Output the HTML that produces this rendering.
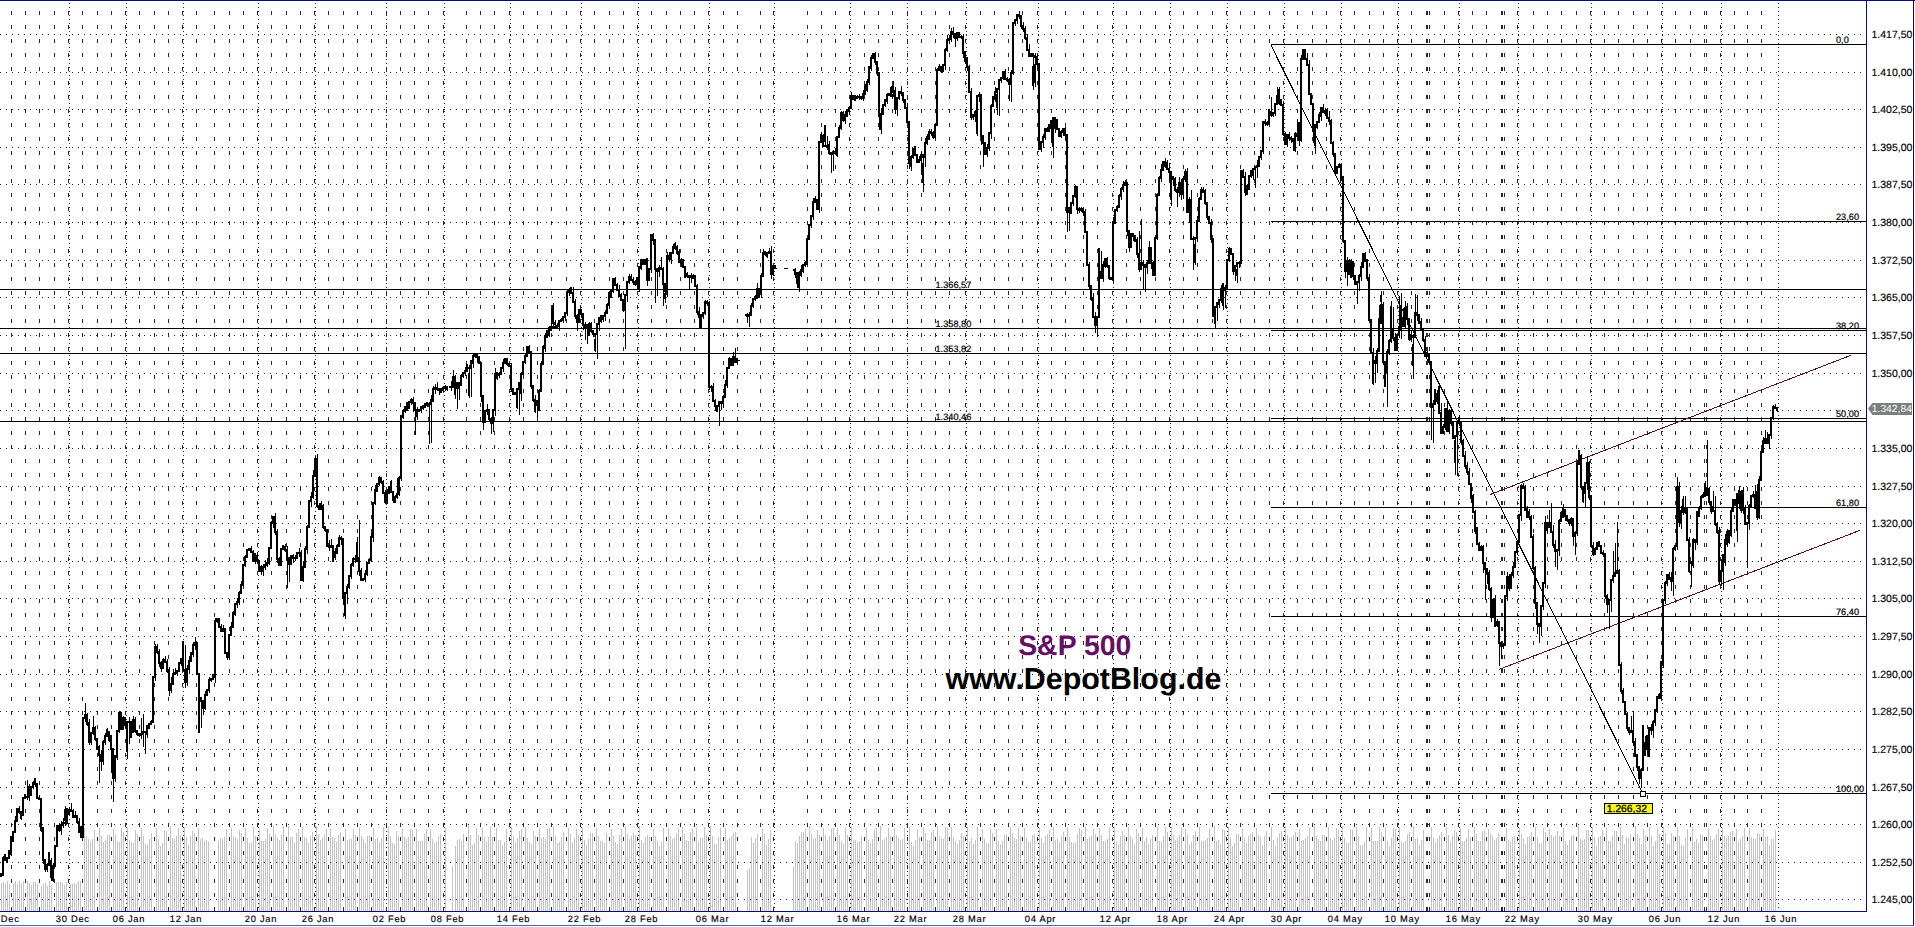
<!DOCTYPE html>
<html><head><meta charset="utf-8"><title>S&amp;P 500</title>
<style>html,body{margin:0;padding:0;background:#fff;}body{width:1915px;height:927px;overflow:hidden;font-family:"Liberation Sans", sans-serif;}svg{display:block;position:absolute;left:0;top:0;}text{font-family:"Liberation Sans", sans-serif;}</style>
</head><body>
<svg width="1915" height="927" viewBox="0 0 1915 927" shape-rendering="crispEdges">
<rect x="0" y="0" width="1915" height="927" fill="#ffffff"/>
<path d="M1.5 883 V911 M3.5 882 V911 M5.5 884 V911 M7.5 881 V911 M9.5 884 V911 M13.5 883 V911 M15.5 881 V911 M17.5 884 V911 M19.5 881 V911 M21.5 883 V911 M23.5 881 V911 M27.5 881 V911 M29.5 883 V911 M31.5 885 V911 M33.5 882 V911 M35.5 882 V911 M37.5 884 V911 M41.5 886 V911 M43.5 884 V911 M45.5 883 V911 M47.5 886 V911 M49.5 881 V911 M51.5 885 V911 M56.5 882 V911 M58.5 882 V911 M60.5 882 V911 M62.5 883 V911 M64.5 885 V911 M66.5 882 V911 M70.5 884 V911 M72.5 884 V911 M74.5 883 V911 M76.5 884 V911 M78.5 881 V911 M80.5 881 V911 M84.5 828 V911 M86.5 836 V911 M88.5 839 V911 M90.5 842 V911 M92.5 839 V911 M94.5 830 V911 M99.5 828 V911 M101.5 836 V911 M103.5 842 V911 M105.5 840 V911 M107.5 835 V911 M109.5 835 V911 M113.5 829 V911 M115.5 834 V911 M117.5 841 V911 M119.5 842 V911 M121.5 828 V911 M123.5 832 V911 M127.5 828 V911 M129.5 840 V911 M131.5 842 V911 M133.5 843 V911 M135.5 830 V911 M137.5 834 V911 M141.5 828 V911 M143.5 836 V911 M145.5 844 V911 M147.5 845 V911 M149.5 839 V911 M151.5 833 V911 M156.5 828 V911 M158.5 839 V911 M160.5 846 V911 M162.5 843 V911 M164.5 830 V911 M166.5 831 V911 M170.5 826 V911 M172.5 838 V911 M174.5 839 V911 M176.5 836 V911 M178.5 828 V911 M180.5 835 V911 M184.5 827 V911 M186.5 837 V911 M188.5 845 V911 M190.5 836 V911 M192.5 831 V911 M194.5 833 V911 M198.5 828 V911 M200.5 839 V911 M202.5 838 V911 M204.5 841 V911 M206.5 840 V911 M208.5 842 V911 M218.5 841 V911 M220.5 838 V911 M222.5 839 V911 M224.5 837 V911 M226.5 829 V911 M231.5 828 V911 M233.5 836 V911 M235.5 837 V911 M237.5 839 V911 M239.5 830 V911 M241.5 833 V911 M245.5 828 V911 M247.5 838 V911 M249.5 843 V911 M251.5 842 V911 M253.5 827 V911 M255.5 836 V911 M259.5 829 V911 M261.5 841 V911 M263.5 841 V911 M265.5 839 V911 M267.5 828 V911 M269.5 834 V911 M273.5 826 V911 M275.5 834 V911 M277.5 838 V911 M279.5 840 V911 M281.5 835 V911 M283.5 827 V911 M288.5 826 V911 M290.5 837 V911 M292.5 837 V911 M294.5 843 V911 M296.5 833 V911 M298.5 829 V911 M302.5 827 V911 M304.5 837 V911 M306.5 838 V911 M308.5 843 V911 M310.5 836 V911 M312.5 832 V911 M316.5 826 V911 M318.5 834 V911 M320.5 840 V911 M322.5 838 V911 M324.5 834 V911 M326.5 829 V911 M330.5 829 V911 M332.5 837 V911 M334.5 838 V911 M336.5 842 V911 M338.5 835 V911 M340.5 832 V911 M345.5 829 V911 M347.5 840 V911 M349.5 839 V911 M351.5 839 V911 M353.5 829 V911 M355.5 835 V911 M359.5 828 V911 M361.5 836 V911 M363.5 839 V911 M365.5 843 V911 M367.5 836 V911 M369.5 836 V911 M373.5 828 V911 M375.5 839 V911 M377.5 838 V911 M379.5 842 V911 M381.5 838 V911 M383.5 827 V911 M388.5 827 V911 M390.5 836 V911 M392.5 843 V911 M394.5 844 V911 M396.5 831 V911 M398.5 836 V911 M402.5 829 V911 M404.5 837 V911 M406.5 839 V911 M408.5 837 V911 M410.5 829 V911 M412.5 830 V911 M416.5 829 V911 M418.5 841 V911 M420.5 841 V911 M422.5 841 V911 M424.5 834 V911 M426.5 829 V911 M430.5 829 V911 M432.5 839 V911 M434.5 843 V911 M436.5 841 V911 M438.5 836 V911 M440.5 834 V911 M445.5 828 V911 M455.5 846 V911 M457.5 840 V911 M459.5 839 V911 M461.5 841 V911 M463.5 834 V911 M468.5 826 V911 M470.5 835 V911 M472.5 845 V911 M474.5 843 V911 M476.5 828 V911 M478.5 835 V911 M482.5 828 V911 M484.5 837 V911 M486.5 842 V911 M488.5 837 V911 M490.5 827 V911 M492.5 837 V911 M496.5 828 V911 M498.5 840 V911 M500.5 840 V911 M502.5 845 V911 M504.5 842 V911 M506.5 829 V911 M511.5 827 V911 M513.5 836 V911 M515.5 842 V911 M517.5 838 V911 M519.5 831 V911 M521.5 829 V911 M525.5 827 V911 M527.5 838 V911 M529.5 842 V911 M531.5 844 V911 M533.5 831 V911 M535.5 836 V911 M539.5 828 V911 M541.5 838 V911 M543.5 837 V911 M545.5 839 V911 M547.5 829 V911 M549.5 828 V911 M553.5 827 V911 M555.5 836 V911 M557.5 843 V911 M559.5 842 V911 M561.5 837 V911 M563.5 832 V911 M568.5 828 V911 M570.5 834 V911 M572.5 842 V911 M574.5 838 V911 M576.5 829 V911 M578.5 835 V911 M582.5 828 V911 M584.5 840 V911 M586.5 845 V911 M588.5 839 V911 M590.5 833 V911 M592.5 833 V911 M596.5 828 V911 M598.5 836 V911 M600.5 841 V911 M602.5 841 V911 M604.5 843 V911 M606.5 833 V911 M611.5 829 V911 M613.5 836 V911 M615.5 842 V911 M617.5 844 V911 M619.5 835 V911 M621.5 829 V911 M625.5 827 V911 M627.5 834 V911 M629.5 839 V911 M631.5 836 V911 M633.5 833 V911 M635.5 835 V911 M639.5 826 V911 M641.5 840 V911 M643.5 843 V911 M645.5 837 V911 M647.5 835 V911 M649.5 837 V911 M653.5 829 V911 M655.5 836 V911 M657.5 841 V911 M659.5 846 V911 M661.5 842 V911 M663.5 828 V911 M668.5 828 V911 M670.5 836 V911 M672.5 839 V911 M674.5 838 V911 M676.5 833 V911 M678.5 828 V911 M682.5 827 V911 M684.5 834 V911 M686.5 840 V911 M688.5 841 V911 M690.5 832 V911 M692.5 829 V911 M696.5 828 V911 M698.5 842 V911 M700.5 838 V911 M702.5 838 V911 M704.5 827 V911 M706.5 835 V911 M710.5 826 V911 M712.5 836 V911 M714.5 844 V911 M716.5 844 V911 M718.5 837 V911 M720.5 828 V911 M725.5 828 V911 M727.5 840 V911 M729.5 838 V911 M731.5 836 V911 M733.5 833 V911 M735.5 832 V911 M751.5 837 V911 M753.5 843 V911 M755.5 838 V911 M757.5 834 V911 M762.5 829 V911 M764.5 834 V911 M766.5 845 V911 M768.5 839 V911 M770.5 830 V911 M795.5 841 V911 M797.5 843 V911 M799.5 836 V911 M801.5 832 V911 M803.5 832 V911 M805.5 829 V911 M809.5 826 V911 M811.5 834 V911 M813.5 839 V911 M815.5 838 V911 M817.5 830 V911 M819.5 835 V911 M823.5 828 V911 M825.5 835 V911 M827.5 840 V911 M829.5 836 V911 M831.5 829 V911 M833.5 828 V911 M837.5 828 V911 M839.5 835 V911 M841.5 841 V911 M843.5 844 V911 M845.5 828 V911 M847.5 835 V911 M851.5 827 V911 M853.5 840 V911 M855.5 840 V911 M857.5 842 V911 M859.5 841 V911 M861.5 836 V911 M866.5 828 V911 M868.5 840 V911 M870.5 843 V911 M872.5 839 V911 M874.5 830 V911 M876.5 828 V911 M880.5 826 V911 M882.5 840 V911 M884.5 839 V911 M886.5 837 V911 M888.5 828 V911 M890.5 836 V911 M894.5 828 V911 M896.5 835 V911 M898.5 838 V911 M900.5 840 V911 M902.5 839 V911 M904.5 828 V911 M909.5 827 V911 M911.5 842 V911 M913.5 846 V911 M915.5 840 V911 M917.5 829 V911 M919.5 837 V911 M923.5 827 V911 M925.5 833 V911 M927.5 840 V911 M929.5 840 V911 M931.5 832 V911 M933.5 830 V911 M937.5 826 V911 M939.5 836 V911 M941.5 838 V911 M943.5 839 V911 M945.5 827 V911 M947.5 828 V911 M951.5 827 V911 M953.5 837 V911 M955.5 841 V911 M957.5 844 V911 M959.5 840 V911 M961.5 833 V911 M963.5 836 V911 M967.5 827 V911 M969.5 841 V911 M971.5 838 V911 M973.5 844 V911 M975.5 840 V911 M977.5 827 V911 M982.5 829 V911 M984.5 839 V911 M986.5 844 V911 M988.5 843 V911 M990.5 828 V911 M992.5 833 V911 M996.5 829 V911 M998.5 841 V911 M1000.5 844 V911 M1002.5 841 V911 M1004.5 835 V911 M1006.5 834 V911 M1010.5 827 V911 M1012.5 834 V911 M1014.5 838 V911 M1016.5 839 V911 M1018.5 828 V911 M1020.5 836 V911 M1024.5 828 V911 M1026.5 838 V911 M1028.5 842 V911 M1030.5 841 V911 M1032.5 835 V911 M1034.5 834 V911 M1039.5 828 V911 M1041.5 838 V911 M1043.5 843 V911 M1045.5 836 V911 M1047.5 834 V911 M1049.5 830 V911 M1053.5 827 V911 M1055.5 840 V911 M1057.5 839 V911 M1059.5 842 V911 M1061.5 836 V911 M1063.5 832 V911 M1067.5 827 V911 M1069.5 837 V911 M1071.5 842 V911 M1073.5 843 V911 M1075.5 842 V911 M1077.5 834 V911 M1079.5 828 V911 M1081.5 830 V911 M1085.5 827 V911 M1087.5 839 V911 M1089.5 837 V911 M1091.5 836 V911 M1093.5 829 V911 M1095.5 834 V911 M1099.5 828 V911 M1101.5 835 V911 M1103.5 841 V911 M1105.5 841 V911 M1107.5 839 V911 M1109.5 828 V911 M1114.5 827 V911 M1116.5 842 V911 M1118.5 845 V911 M1120.5 836 V911 M1122.5 831 V911 M1124.5 835 V911 M1128.5 827 V911 M1130.5 836 V911 M1132.5 839 V911 M1134.5 844 V911 M1136.5 829 V911 M1138.5 833 V911 M1142.5 828 V911 M1144.5 841 V911 M1146.5 837 V911 M1148.5 844 V911 M1150.5 839 V911 M1152.5 835 V911 M1157.5 827 V911 M1159.5 841 V911 M1161.5 841 V911 M1163.5 836 V911 M1165.5 827 V911 M1167.5 832 V911 M1171.5 827 V911 M1173.5 835 V911 M1175.5 840 V911 M1177.5 838 V911 M1179.5 835 V911 M1181.5 828 V911 M1185.5 829 V911 M1187.5 834 V911 M1189.5 845 V911 M1191.5 842 V911 M1193.5 835 V911 M1195.5 831 V911 M1199.5 827 V911 M1201.5 841 V911 M1203.5 841 V911 M1205.5 840 V911 M1207.5 838 V911 M1209.5 829 V911 M1214.5 826 V911 M1216.5 841 V911 M1218.5 840 V911 M1220.5 844 V911 M1222.5 829 V911 M1224.5 830 V911 M1228.5 827 V911 M1230.5 837 V911 M1232.5 846 V911 M1234.5 843 V911 M1236.5 834 V911 M1238.5 834 V911 M1242.5 829 V911 M1244.5 838 V911 M1246.5 843 V911 M1248.5 836 V911 M1250.5 834 V911 M1252.5 832 V911 M1256.5 828 V911 M1258.5 835 V911 M1260.5 837 V911 M1262.5 845 V911 M1264.5 836 V911 M1266.5 831 V911 M1271.5 827 V911 M1273.5 840 V911 M1275.5 846 V911 M1277.5 838 V911 M1279.5 833 V911 M1281.5 831 V911 M1285.5 827 V911 M1287.5 835 V911 M1289.5 838 V911 M1291.5 837 V911 M1293.5 835 V911 M1295.5 832 V911 M1299.5 829 V911 M1301.5 841 V911 M1303.5 840 V911 M1305.5 838 V911 M1307.5 836 V911 M1309.5 828 V911 M1314.5 826 V911 M1316.5 836 V911 M1318.5 839 V911 M1320.5 841 V911 M1322.5 835 V911 M1324.5 835 V911 M1328.5 827 V911 M1330.5 838 V911 M1332.5 840 V911 M1334.5 838 V911 M1336.5 828 V911 M1338.5 830 V911 M1342.5 826 V911 M1344.5 838 V911 M1346.5 843 V911 M1348.5 843 V911 M1350.5 829 V911 M1352.5 830 V911 M1356.5 827 V911 M1358.5 836 V911 M1360.5 845 V911 M1362.5 845 V911 M1364.5 842 V911 M1366.5 827 V911 M1371.5 828 V911 M1373.5 841 V911 M1375.5 841 V911 M1377.5 841 V911 M1379.5 827 V911 M1381.5 832 V911 M1385.5 828 V911 M1387.5 841 V911 M1389.5 846 V911 M1391.5 838 V911 M1393.5 828 V911 M1395.5 829 V911 M1399.5 828 V911 M1401.5 842 V911 M1403.5 843 V911 M1405.5 841 V911 M1407.5 834 V911 M1409.5 832 V911 M1413.5 826 V911 M1415.5 839 V911 M1417.5 838 V911 M1419.5 845 V911 M1421.5 840 V911 M1423.5 830 V911 M1431.5 827 V911 M1433.5 838 V911 M1435.5 842 V911 M1437.5 838 V911 M1439.5 835 V911 M1441.5 832 V911 M1446.5 827 V911 M1448.5 835 V911 M1450.5 842 V911 M1452.5 836 V911 M1454.5 830 V911 M1456.5 832 V911 M1460.5 828 V911 M1462.5 841 V911 M1464.5 841 V911 M1466.5 838 V911 M1468.5 829 V911 M1470.5 837 V911 M1474.5 827 V911 M1476.5 834 V911 M1478.5 841 V911 M1480.5 841 V911 M1482.5 831 V911 M1484.5 830 V911 M1488.5 829 V911 M1490.5 834 V911 M1492.5 836 V911 M1494.5 840 V911 M1496.5 838 V911 M1498.5 833 V911 M1506.5 828 V911 M1508.5 840 V911 M1510.5 842 V911 M1512.5 837 V911 M1514.5 836 V911 M1519.5 828 V911 M1521.5 834 V911 M1523.5 838 V911 M1525.5 844 V911 M1527.5 837 V911 M1529.5 836 V911 M1531.5 832 V911 M1535.5 827 V911 M1537.5 837 V911 M1539.5 843 V911 M1541.5 844 V911 M1543.5 828 V911 M1545.5 832 V911 M1549.5 829 V911 M1551.5 835 V911 M1553.5 837 V911 M1555.5 836 V911 M1557.5 831 V911 M1559.5 836 V911 M1563.5 828 V911 M1565.5 841 V911 M1567.5 845 V911 M1569.5 840 V911 M1571.5 836 V911 M1573.5 835 V911 M1578.5 826 V911 M1580.5 839 V911 M1582.5 840 V911 M1584.5 839 V911 M1586.5 830 V911 M1588.5 830 V911 M1592.5 827 V911 M1594.5 837 V911 M1596.5 846 V911 M1598.5 837 V911 M1600.5 836 V911 M1602.5 830 V911 M1606.5 828 V911 M1608.5 841 V911 M1610.5 841 V911 M1612.5 836 V911 M1614.5 831 V911 M1616.5 831 V911 M1620.5 827 V911 M1622.5 835 V911 M1624.5 844 V911 M1626.5 837 V911 M1628.5 838 V911 M1630.5 834 V911 M1635.5 826 V911 M1637.5 834 V911 M1639.5 838 V911 M1641.5 844 V911 M1643.5 829 V911 M1645.5 835 V911 M1649.5 827 V911 M1651.5 836 V911 M1653.5 846 V911 M1655.5 841 V911 M1657.5 829 V911 M1659.5 834 V911 M1663.5 827 V911 M1665.5 833 V911 M1667.5 844 V911 M1669.5 844 V911 M1671.5 833 V911 M1673.5 836 V911 M1677.5 827 V911 M1679.5 836 V911 M1681.5 845 V911 M1683.5 846 V911 M1685.5 838 V911 M1687.5 829 V911 M1692.5 827 V911 M1694.5 842 V911 M1696.5 839 V911 M1698.5 843 V911 M1700.5 834 V911 M1702.5 835 V911 M1708.5 828 V911 M1710.5 836 V911 M1712.5 840 V911 M1714.5 839 V911 M1716.5 834 V911 M1718.5 829 V911 M1722.5 828 V911 M1724.5 836 V911 M1726.5 838 V911 M1728.5 836 V911 M1730.5 832 V911 M1732.5 831 V911 M1736.5 829 V911 M1738.5 842 V911 M1740.5 839 V911 M1742.5 836 V911 M1744.5 828 V911 M1749.5 828 V911 M1751.5 837 V911 M1753.5 839 V911 M1755.5 839 V911 M1757.5 833 V911 M1759.5 834 V911 M1763.5 829 V911 M1765.5 837 V911 M1767.5 836 V911 M1769.5 845 V911 M1771.5 839 V911 M1773.5 839 V911 M1775.5 830 V911 M747.5 870 V911 M749.5 868 V911 M793.5 867 V911 M452.5 866 V911" stroke="#c2c2c2" stroke-width="1" fill="none"/>
<path d="M0 34.5 H1861 M0 72.5 H1861 M0 109.5 H1861 M0 147.5 H1861 M0 184.5 H1861 M0 222.5 H1861 M0 260.5 H1861 M0 297.5 H1861 M0 335.5 H1861 M0 373.5 H1861 M0 410.5 H1861 M0 448.5 H1861 M0 486.5 H1861 M0 523.5 H1861 M0 561.5 H1861 M0 598.5 H1861 M0 636.5 H1861 M0 674.5 H1861 M0 711.5 H1861 M0 749.5 H1861 M0 787.5 H1861 M0 824.5 H1861 M0 862.5 H1861 M0 899.5 H1861" stroke="#2a2a2a" stroke-width="1" stroke-dasharray="1 5" fill="none"/>
<path d="M11.5 11 V911 M25.5 11 V911 M39.5 11 V911 M54.5 11 V911 M68.5 11 V911 M82.5 11 V911 M97.5 11 V911 M111.5 11 V911 M125.5 11 V911 M139.5 11 V911 M154.5 11 V911 M168.5 11 V911 M182.5 11 V911 M196.5 11 V911 M214.5 11 V911 M229.5 11 V911 M243.5 11 V911 M257.5 11 V911 M271.5 11 V911 M286.5 11 V911 M300.5 11 V911 M314.5 11 V911 M328.5 11 V911 M343.5 11 V911 M357.5 11 V911 M371.5 11 V911 M386.5 11 V911 M400.5 11 V911 M414.5 11 V911 M428.5 11 V911 M443.5 11 V911 M466.5 11 V911 M480.5 11 V911 M494.5 11 V911 M509.5 11 V911 M523.5 11 V911 M537.5 11 V911 M551.5 11 V911 M566.5 11 V911 M580.5 11 V911 M594.5 11 V911 M609.5 11 V911 M623.5 11 V911 M637.5 11 V911 M651.5 11 V911 M666.5 11 V911 M680.5 11 V911 M694.5 11 V911 M708.5 11 V911 M723.5 11 V911 M737.5 11 V911 M760.5 11 V911 M773.5 11 V911 M807.5 11 V911 M821.5 11 V911 M835.5 11 V911 M849.5 11 V911 M864.5 11 V911 M878.5 11 V911 M892.5 11 V911 M907.5 11 V911 M921.5 11 V911 M935.5 11 V911 M949.5 11 V911 M965.5 11 V911 M980.5 11 V911 M994.5 11 V911 M1008.5 11 V911 M1022.5 11 V911 M1037.5 11 V911 M1051.5 11 V911 M1065.5 11 V911 M1083.5 11 V911 M1097.5 11 V911 M1112.5 11 V911 M1126.5 11 V911 M1140.5 11 V911 M1155.5 11 V911 M1169.5 11 V911 M1183.5 11 V911 M1197.5 11 V911 M1212.5 11 V911 M1226.5 11 V911 M1240.5 11 V911 M1254.5 11 V911 M1269.5 11 V911 M1283.5 11 V911 M1297.5 11 V911 M1312.5 11 V911 M1326.5 11 V911 M1340.5 11 V911 M1354.5 11 V911 M1369.5 11 V911 M1383.5 11 V911 M1397.5 11 V911 M1411.5 11 V911 M1426.5 11 V911 M1427.5 11 V911 M1429.5 11 V911 M1444.5 11 V911 M1458.5 11 V911 M1472.5 11 V911 M1486.5 11 V911 M1501.5 11 V911 M1502.5 11 V911 M1504.5 11 V911 M1517.5 11 V911 M1533.5 11 V911 M1547.5 11 V911 M1561.5 11 V911 M1576.5 11 V911 M1590.5 11 V911 M1604.5 11 V911 M1618.5 11 V911 M1633.5 11 V911 M1647.5 11 V911 M1661.5 11 V911 M1675.5 11 V911 M1690.5 11 V911 M1704.5 11 V911 M1706.5 11 V911 M1720.5 11 V911 M1734.5 11 V911 M1747.5 11 V911 M1761.5 11 V911" stroke="#2a2a2a" stroke-width="1" stroke-dasharray="4 10" fill="none"/>
<path d="M69.5 3 V911 M126.5 3 V911 M183.5 3 V911 M258.5 3 V911 M315.5 3 V911 M386.5 3 V911 M444.5 3 V911 M510.5 3 V911 M581.5 3 V911 M638.5 3 V911 M709.5 3 V911 M774.5 3 V911 M850.5 3 V911 M907.5 3 V911 M966.5 3 V911 M1038.5 3 V911 M1113.5 3 V911 M1170.5 3 V911 M1227.5 3 V911 M1284.5 3 V911 M1341.5 3 V911 M1398.5 3 V911 M1459.5 3 V911 M1518.5 3 V911 M1591.5 3 V911 M1662.5 3 V911 M1721.5 3 V911 M1778.5 3 V911" stroke="#2a2a2a" stroke-width="1" stroke-dasharray="1 3" fill="none"/>
<path d="M0 289.5 H1866" stroke="#000" stroke-width="1" fill="none"/>
<path d="M0 328.5 H1866" stroke="#000" stroke-width="1" fill="none"/>
<path d="M0 353.5 H1866" stroke="#000" stroke-width="1" fill="none"/>
<path d="M0 421.5 H1866" stroke="#000" stroke-width="1" fill="none"/>
<path d="M1271 44.5 H1866" stroke="#000" stroke-width="1" fill="none"/>
<path d="M1271 221.5 H1866" stroke="#000" stroke-width="1" fill="none"/>
<path d="M1271 330.5 H1866" stroke="#000" stroke-width="1" fill="none"/>
<path d="M1271 418.5 H1866" stroke="#000" stroke-width="1" fill="none"/>
<path d="M1271 507.5 H1866" stroke="#000" stroke-width="1" fill="none"/>
<path d="M1271 616.5 H1866" stroke="#000" stroke-width="1" fill="none"/>
<path d="M1271 793.5 H1866" stroke="#000" stroke-width="1" fill="none"/>
<path d="M1270.7 44.7 L1642.8 793.5" stroke="#000" stroke-width="1" fill="none"/>
<path d="M1490.2 494.5 L1850.7 355.4" stroke="#5e0c24" stroke-width="1" fill="none"/>
<path d="M1499.1 669.4 L1859.8 530.4" stroke="#5e0c24" stroke-width="1" fill="none"/>
<path d="M0 876 H1 V875 H3 V858 H5 V860 H7 V858 H9 V854 H11 V841 H13 V832 H15 V821 H17 V809 H19 V812 H21 V814 H23 V798 H25 V797 H27 V797 H29 V795 H31 V787 H33 V784 H35 V784 H37 V798 H39 V799 H41 V828 H43 V860 H45 V869 H47 V865 H49 V862 H51 V877 H53 V866 H55 V846 H57 V826 H59 V830 H61 V825 H63 V823 H65 V823 H67 V814 H69 V810 H71 V811 H73 V817 H75 V816 H77 V822 H79 V832 H81 V837 H83 V718 H85 V715 H87 V723 H89 V742 H91 V733 H93 V728 H95 V739 H97 V747 H99 V755 H101 V761 H103 V742 H105 V736 H107 V732 H109 V736 H111 V749 H113 V778 H115 V757 H117 V731 H119 V713 H121 V729 H123 V718 H125 V725 H127 V722 H129 V722 H131 V732 H133 V720 H135 V731 H137 V734 H139 V735 H141 V734 H143 V732 H145 V732 H147 V728 H149 V724 H151 V722 H153 V677 H155 V647 H157 V652 H159 V663 H161 V668 H163 V660 H165 V662 H167 V671 H169 V690 H171 V684 H173 V674 H175 V673 H177 V671 H179 V663 H181 V659 H183 V670 H185 V682 H187 V669 H189 V661 H191 V654 H193 V645 H195 V643 H197 V674 H199 V698 H201 V701 H203 V708 H205 V695 H207 V690 H209 V680 H211 V679 H213 V677 H215 V621 H217 V619 H219 V627 H221 V631 H223 V629 H225 V653 H227 V657 H229 V635 H231 V627 H233 V613 H235 V604 H237 V602 H239 V593 H241 V585 H243 V565 H245 V557 H247 V550 H249 V550 H251 V552 H253 V560 H255 V556 H257 V561 H259 V570 H261 V571 H263 V567 H265 V565 H267 V563 H269 V548 H271 V523 H273 V517 H275 V532 H277 V559 H279 V565 H281 V549 H283 V547 H285 V550 H287 V558 H289 V564 H291 V556 H293 V558 H295 V558 H297 V553 H299 V553 H301 V580 H303 V567 H305 V549 H307 V527 H309 V501 H311 V497 H313 V476 H315 V459 H317 V506 H319 V509 H321 V506 H323 V527 H325 V530 H327 V546 H329 V547 H331 V546 H333 V557 H335 V553 H337 V546 H339 V538 H341 V539 H343 V598 H345 V593 H347 V587 H349 V576 H351 V565 H353 V559 H355 V559 H357 V558 H359 V571 H361 V580 H363 V579 H365 V574 H367 V563 H369 V560 H371 V537 H373 V503 H375 V490 H377 V484 H379 V478 H381 V482 H383 V493 H385 V502 H387 V493 H389 V487 H391 V492 H393 V498 H395 V497 H397 V494 H399 V478 H401 V416 H403 V411 H405 V407 H407 V403 H409 V402 H411 V400 H413 V403 H415 V410 H417 V411 H419 V410 H421 V407 H423 V407 H425 V404 H427 V404 H429 V404 H431 V400 H433 V389 H435 V388 H437 V389 H439 V390 H441 V389 H443 V388 H445 V387 H447 V388 M450 387 H451 V387 H453 V377 H455 V383 H457 V388 H459 V383 H461 V376 H463 V373 H465 V371 H467 V368 H469 V368 H471 V361 H473 V356 H475 V354 H477 V357 H479 V363 H481 V396 H483 V422 H485 V411 H487 V410 H489 V419 H491 V423 H493 V410 H495 V374 H497 V375 H499 V374 H501 V368 H503 V363 H505 V359 H507 V364 H509 V366 H511 V389 H513 V394 H515 V393 H517 V389 H519 V383 H521 V374 H523 V362 H525 V356 H527 V347 H529 V352 H531 V386 H533 V400 H535 V405 H537 V401 H539 V391 H541 V364 H543 V348 H545 V336 H547 V331 H549 V330 H551 V327 H553 V327 H555 V327 H557 V326 H559 V321 H561 V320 H563 V317 H565 V313 H567 V292 H569 V291 H571 V293 H573 V302 H575 V316 H577 V322 H579 V310 H581 V314 H583 V325 H585 V328 H587 V325 H589 V324 H591 V331 H593 V334 H595 V334 H597 V324 H599 V318 H601 V318 H603 V316 H605 V313 H607 V305 H609 V297 H611 V291 H613 V279 H615 V285 H617 V290 H619 V295 H621 V300 H623 V310 H625 V295 H627 V282 H629 V277 H631 V280 H633 V282 H635 V284 H637 V278 H639 V267 H641 V260 H643 V264 H645 V260 H647 V280 H649 V269 H651 V235 H653 V240 H655 V269 H657 V271 H659 V268 H661 V269 H663 V284 H665 V291 H667 V256 H669 V259 H671 V253 H673 V248 H675 V247 H677 V252 H679 V262 H681 V260 H683 V267 H685 V274 H687 V276 H689 V277 H691 V276 H693 V278 H695 V286 H697 V312 H699 V317 H701 V315 H703 V313 H705 V302 H707 V303 H709 V387 H711 V387 H713 V401 H715 V406 H717 V406 H719 V402 H721 V403 H723 V397 H725 V385 H727 V368 H729 V359 H731 V365 H733 V357 H735 V362 H737 V359 M746 315 H747 V316 H749 V315 H751 V306 H753 V299 H755 V298 H757 V289 H759 V292 H761 V276 H763 V253 H765 V254 H767 V253 H769 V252 H771 V274 H773 V266 H775 V268 M794 270 H795 V273 H797 V282 H799 V275 H801 V270 H803 V265 H805 V264 H807 V239 H809 V225 H811 V216 H813 V202 H815 V200 H817 V209 H819 V142 H821 V136 H823 V146 H825 V146 H827 V147 H829 V153 H831 V154 H833 V152 H835 V153 H837 V137 H839 V128 H841 V113 H843 V120 H845 V115 H847 V111 H849 V108 H851 V96 H853 V99 H855 V98 H857 V97 H859 V97 H861 V98 H863 V94 H865 V86 H867 V82 H869 V67 H871 V58 H873 V54 H875 V62 H877 V73 H879 V116 H881 V114 H883 V105 H885 V101 H887 V95 H889 V94 H891 V96 H893 V95 H895 V109 H897 V98 H899 V92 H901 V93 H903 V100 H905 V108 H907 V122 H909 V163 H911 V157 H913 V149 H915 V155 H917 V162 H919 V160 H921 V155 H923 V157 H925 V143 H927 V137 H929 V132 H931 V133 H933 V137 H935 V125 H937 V70 H939 V67 H941 V71 H943 V65 H945 V50 H947 V40 H949 V39 H951 V32 H953 V34 H955 V38 H957 V33 H959 V37 H961 V37 H963 V53 H965 V58 H967 V67 H969 V92 H971 V117 H973 V116 H975 V112 H977 V96 H979 V95 H981 V136 H983 V143 H985 V154 H987 V148 H989 V133 H991 V106 H993 V99 H995 V92 H997 V89 H999 V80 H1001 V78 H1003 V72 H1005 V79 H1007 V80 H1009 V84 H1011 V73 H1013 V23 H1015 V20 H1017 V15 H1019 V16 H1021 V26 H1023 V29 H1025 V38 H1027 V50 H1029 V56 H1031 V54 H1033 V56 H1035 V57 H1037 V64 H1039 V149 H1041 V142 H1043 V137 H1045 V129 H1047 V131 H1049 V128 H1051 V121 H1053 V118 H1055 V120 H1057 V129 H1059 V136 H1061 V132 H1063 V129 H1065 V135 H1067 V212 H1069 V208 H1071 V203 H1073 V196 H1075 V187 H1077 V209 H1079 V210 H1081 V209 H1083 V212 H1085 V232 H1087 V265 H1089 V286 H1091 V299 H1093 V317 H1095 V325 H1097 V317 H1099 V272 H1101 V278 H1103 V266 H1105 V259 H1107 V266 H1109 V278 H1111 V279 H1113 V223 H1115 V210 H1117 V207 H1119 V196 H1121 V189 H1123 V185 H1125 V183 H1127 V231 H1129 V247 H1131 V234 H1133 V236 H1135 V241 H1137 V254 H1139 V269 H1141 V263 H1143 V265 H1145 V267 H1147 V263 H1149 V248 H1151 V263 H1153 V275 H1155 V238 H1157 V195 H1159 V178 H1161 V170 H1163 V162 H1165 V165 H1167 V169 H1169 V172 H1171 V177 H1173 V179 H1175 V190 H1177 V192 H1179 V183 H1181 V194 H1183 V179 H1185 V172 H1187 V212 H1189 V200 H1191 V239 H1193 V239 H1195 V238 H1197 V221 H1199 V199 H1201 V190 H1203 V191 H1205 V203 H1207 V217 H1209 V223 H1211 V239 H1213 V311 H1215 V307 H1217 V303 H1219 V300 H1221 V289 H1223 V290 H1225 V288 H1227 V260 H1229 V249 H1231 V254 H1233 V271 H1235 V266 H1237 V263 H1239 V263 H1241 V171 H1243 V177 H1245 V192 H1247 V189 H1249 V176 H1251 V171 H1253 V169 H1255 V167 H1257 V166 H1259 V157 H1261 V151 H1263 V122 H1265 V123 H1267 V124 H1269 V112 H1271 V115 H1273 V113 H1275 V104 H1277 V96 H1279 V100 H1281 V105 H1283 V134 H1285 V144 H1287 V135 H1289 V138 H1291 V139 H1293 V141 H1295 V134 H1297 V136 H1299 V140 H1301 V59 H1303 V50 H1305 V59 H1307 V65 H1309 V94 H1311 V104 H1313 V131 H1315 V125 H1317 V122 H1319 V116 H1321 V108 H1323 V112 H1325 V111 H1327 V118 H1329 V121 H1331 V143 H1333 V154 H1335 V172 H1337 V167 H1339 V165 H1341 V177 H1343 V241 H1345 V271 H1347 V261 H1349 V274 H1351 V262 H1353 V276 H1355 V284 H1357 V282 H1359 V276 H1361 V267 H1363 V255 H1365 V260 H1367 V278 H1369 V320 H1371 V353 H1373 V361 H1375 V363 H1377 V351 H1379 V323 H1381 V305 H1383 V362 H1385 V372 H1387 V352 H1389 V341 H1391 V329 H1393 V338 H1395 V350 H1397 V335 H1399 V327 H1401 V318 H1403 V326 H1405 V308 H1407 V319 H1409 V339 H1411 V336 H1413 V337 H1415 V313 H1417 V315 H1419 V322 H1421 V329 H1423 V340 H1425 V356 H1427 V354 H1429 V362 H1431 V407 H1433 V404 H1435 V401 H1437 V394 H1439 V413 H1441 V433 H1443 V427 H1445 V409 H1447 V431 H1449 V411 H1451 V423 H1453 V438 H1455 V436 H1457 V423 H1459 V423 H1461 V441 H1463 V456 H1465 V466 H1467 V472 H1469 V484 H1471 V498 H1473 V512 H1475 V528 H1477 V544 H1479 V550 H1481 V547 H1483 V563 H1485 V569 H1487 V573 H1489 V589 H1491 V617 H1493 V600 H1495 V625 H1497 V622 H1499 V643 H1501 V646 H1503 V645 H1505 V596 H1507 V577 H1509 V588 H1511 V575 H1513 V567 H1515 V552 H1517 V542 H1519 V515 H1521 V486 H1523 V488 H1525 V510 H1527 V512 H1529 V517 H1531 V537 H1533 V568 H1535 V603 H1537 V624 H1539 V626 H1541 V606 H1543 V583 H1545 V523 H1547 V527 H1549 V523 H1551 V532 H1553 V545 H1555 V551 H1557 V550 H1559 V521 H1561 V515 H1563 V510 H1565 V516 H1567 V520 H1569 V523 H1571 V519 H1573 V536 H1575 V533 H1577 V464 H1579 V456 H1581 V487 H1583 V493 H1585 V483 H1587 V463 H1589 V497 H1591 V546 H1593 V554 H1595 V549 H1597 V544 H1599 V546 H1601 V553 H1603 V554 H1605 V596 H1607 V604 H1609 V600 H1611 V580 H1613 V576 H1615 V573 H1617 V571 H1619 V665 H1621 V691 H1623 V702 H1625 V714 H1627 V728 H1629 V732 H1631 V731 H1633 V742 H1635 V756 H1637 V767 H1639 V778 H1641 V770 H1643 V755 H1645 V743 H1647 V736 H1649 V728 H1651 V730 H1653 V722 H1655 V710 H1657 V697 H1659 V698 H1661 V662 H1663 V600 H1665 V583 H1667 V575 H1669 V578 H1671 V581 H1673 V549 H1675 V546 H1677 V487 H1679 V522 H1681 V511 H1683 V512 H1685 V509 H1687 V540 H1689 V563 H1691 V562 H1693 V540 H1695 V542 H1697 V512 H1699 V508 H1701 V497 H1703 V495 H1705 V495 H1707 V489 H1709 V502 H1711 V507 H1713 V511 H1715 V524 H1717 V532 H1719 V581 H1721 V571 H1723 V555 H1725 V540 H1727 V542 H1729 V535 H1731 V511 H1733 V500 H1735 V501 H1737 V494 H1739 V492 H1741 V509 H1743 V509 H1745 V524 H1747 V523 H1749 V506 H1751 V496 H1753 V495 H1755 V508 H1757 V517 H1759 V480 H1761 V452 H1763 V443 H1765 V439 H1767 V443 H1769 V435 H1771 V418 H1773 V407 H1775 V408 H1777 V410" stroke="#000" stroke-width="2" fill="none" stroke-linejoin="miter" stroke-linecap="square"/>
<path d="M1.5 873 V877 M0.5 873 V877 M3.5 856 V874 M2.5 859 V872 M5.5 854 V861 M4.5 854 V859 M7.5 857 V863 M6.5 857 V862 M9.5 850 V859 M8.5 850 V858 M11.5 836 V856 M10.5 836 V854 M13.5 831 V842 M15.5 816 V832 M14.5 820 V827 M17.5 808 V820 M16.5 809 V820 M19.5 806 V814 M21.5 813 V820 M20.5 814 V819 M23.5 797 V816 M22.5 798 V816 M25.5 794 V799 M24.5 794 V798 M27.5 780 V800 M29.5 784 V801 M28.5 786 V796 M31.5 787 V796 M33.5 781 V789 M32.5 782 V787 M35.5 778 V787 M34.5 778 V784 M37.5 784 V798 M39.5 795 V800 M41.5 798 V832 M40.5 804 V831 M43.5 828 V864 M45.5 859 V872 M47.5 863 V872 M49.5 852 V864 M48.5 852 V861 M51.5 858 V881 M50.5 860 V878 M53.5 863 V882 M52.5 866 V881 M55.5 845 V867 M57.5 826 V846 M56.5 831 V840 M59.5 823 V832 M61.5 821 V835 M60.5 824 V831 M63.5 818 V828 M65.5 806 V826 M64.5 809 V821 M67.5 808 V823 M66.5 808 V819 M69.5 807 V814 M71.5 803 V812 M73.5 809 V817 M72.5 810 V816 M75.5 811 V818 M77.5 816 V824 M76.5 818 V823 M79.5 818 V832 M78.5 822 V829 M81.5 826 V837 M80.5 826 V837 M83.5 717 V838 M85.5 703 V722 M87.5 713 V726 M86.5 715 V725 M89.5 719 V745 M91.5 732 V745 M93.5 716 V735 M95.5 726 V741 M94.5 729 V740 M97.5 739 V750 M96.5 742 V749 M99.5 745 V783 M101.5 750 V771 M103.5 740 V765 M105.5 733 V745 M107.5 728 V736 M106.5 729 V734 M109.5 731 V742 M108.5 732 V741 M111.5 737 V773 M113.5 769 V802 M115.5 755 V782 M114.5 755 V779 M117.5 730 V760 M119.5 711 V733 M121.5 713 V729 M120.5 717 V727 M123.5 716 V730 M125.5 717 V728 M124.5 719 V725 M127.5 722 V759 M126.5 724 V752 M129.5 717 V744 M131.5 722 V738 M130.5 722 V738 M133.5 716 V733 M135.5 717 V733 M137.5 731 V736 M136.5 731 V735 M139.5 735 V737 M141.5 718 V739 M143.5 714 V747 M145.5 732 V754 M147.5 725 V738 M146.5 725 V735 M149.5 723 V729 M151.5 720 V724 M153.5 677 V722 M152.5 678 V719 M155.5 644 V681 M157.5 644 V654 M159.5 649 V667 M161.5 661 V672 M163.5 658 V669 M162.5 660 V668 M165.5 656 V662 M167.5 659 V673 M169.5 667 V696 M171.5 677 V693 M173.5 669 V682 M175.5 668 V674 M177.5 671 V676 M179.5 663 V672 M178.5 663 V672 M181.5 658 V666 M183.5 641 V670 M182.5 641 V669 M185.5 645 V688 M187.5 665 V686 M189.5 656 V674 M191.5 652 V661 M190.5 652 V661 M193.5 642 V657 M195.5 637 V650 M197.5 644 V675 M199.5 673 V733 M198.5 681 V733 M201.5 697 V728 M203.5 701 V715 M205.5 691 V710 M207.5 690 V696 M209.5 677 V693 M211.5 678 V682 M213.5 674 V680 M212.5 674 V678 M215.5 618 V683 M217.5 619 V623 M219.5 620 V628 M221.5 624 V631 M223.5 625 V631 M225.5 630 V654 M227.5 652 V660 M229.5 635 V660 M228.5 636 V654 M231.5 622 V636 M233.5 611 V626 M232.5 614 V622 M235.5 603 V616 M234.5 606 V615 M237.5 598 V608 M239.5 591 V605 M238.5 592 V602 M241.5 581 V594 M240.5 584 V592 M243.5 564 V586 M245.5 555 V567 M244.5 557 V563 M247.5 550 V556 M249.5 548 V551 M248.5 548 V550 M251.5 546 V552 M250.5 548 V552 M253.5 550 V562 M255.5 553 V564 M254.5 553 V562 M257.5 552 V564 M256.5 555 V561 M259.5 560 V572 M258.5 560 V571 M261.5 565 V575 M260.5 566 V572 M263.5 564 V576 M265.5 560 V570 M267.5 558 V567 M269.5 548 V565 M268.5 551 V563 M271.5 521 V549 M273.5 516 V528 M275.5 513 V535 M277.5 529 V563 M279.5 557 V566 M281.5 549 V566 M283.5 545 V550 M282.5 545 V550 M285.5 544 V552 M284.5 546 V551 M287.5 546 V588 M289.5 559 V582 M291.5 555 V564 M293.5 554 V563 M295.5 555 V561 M297.5 552 V559 M296.5 552 V558 M299.5 548 V557 M301.5 550 V581 M300.5 556 V573 M303.5 561 V582 M305.5 546 V566 M307.5 525 V554 M309.5 501 V528 M311.5 492 V507 M313.5 470 V499 M315.5 456 V476 M317.5 454 V508 M319.5 503 V509 M321.5 501 V509 M320.5 503 V508 M323.5 504 V529 M325.5 526 V532 M327.5 531 V546 M329.5 540 V551 M331.5 539 V547 M333.5 546 V562 M332.5 550 V562 M335.5 548 V560 M334.5 551 V558 M337.5 544 V554 M339.5 535 V547 M341.5 536 V545 M343.5 539 V605 M342.5 541 V591 M345.5 593 V619 M344.5 599 V616 M347.5 584 V604 M349.5 576 V589 M351.5 563 V579 M353.5 557 V567 M355.5 555 V563 M357.5 537 V562 M356.5 542 V562 M359.5 520 V576 M361.5 568 V580 M363.5 578 V581 M362.5 579 V581 M365.5 570 V582 M364.5 573 V578 M367.5 562 V576 M369.5 558 V563 M371.5 533 V562 M373.5 502 V542 M375.5 485 V505 M377.5 483 V492 M376.5 483 V492 M379.5 476 V486 M381.5 477 V484 M380.5 477 V483 M383.5 480 V493 M385.5 490 V504 M387.5 489 V504 M389.5 486 V493 M391.5 480 V492 M390.5 481 V492 M393.5 491 V503 M392.5 492 V501 M395.5 495 V503 M394.5 496 V503 M397.5 478 V499 M399.5 476 V496 M401.5 416 V481 M403.5 409 V419 M402.5 412 V418 M405.5 406 V413 M404.5 408 V412 M407.5 403 V411 M406.5 403 V411 M409.5 401 V409 M408.5 401 V409 M411.5 398 V405 M413.5 397 V412 M415.5 408 V435 M417.5 407 V420 M416.5 411 V417 M419.5 409 V412 M421.5 407 V413 M423.5 405 V410 M422.5 405 V409 M425.5 403 V408 M427.5 402 V407 M426.5 402 V406 M429.5 402 V444 M431.5 395 V443 M433.5 386 V402 M432.5 388 V402 M435.5 384 V394 M437.5 382 V391 M439.5 388 V395 M441.5 388 V393 M440.5 389 V393 M443.5 386 V392 M442.5 387 V391 M445.5 385 V391 M447.5 386 V391 M446.5 386 V390 M451.5 381 V391 M453.5 370 V387 M455.5 375 V399 M454.5 378 V395 M457.5 388 V409 M459.5 382 V400 M461.5 374 V386 M460.5 376 V386 M463.5 372 V378 M465.5 367 V376 M467.5 364 V370 M466.5 364 V368 M469.5 365 V398 M468.5 373 V396 M471.5 361 V397 M473.5 354 V368 M472.5 356 V364 M475.5 353 V358 M477.5 355 V363 M479.5 356 V364 M478.5 357 V363 M481.5 362 V402 M483.5 397 V430 M485.5 411 V423 M484.5 411 V423 M487.5 404 V415 M489.5 410 V422 M491.5 417 V434 M493.5 410 V432 M495.5 368 V416 M494.5 382 V411 M497.5 372 V380 M496.5 372 V379 M499.5 372 V378 M501.5 367 V374 M503.5 359 V372 M505.5 359 V364 M507.5 358 V366 M506.5 360 V365 M509.5 362 V366 M508.5 363 V365 M511.5 363 V392 M510.5 366 V390 M513.5 390 V394 M515.5 392 V395 M517.5 389 V409 M516.5 394 V408 M519.5 383 V415 M521.5 372 V401 M520.5 375 V394 M523.5 362 V374 M522.5 362 V373 M525.5 353 V364 M527.5 346 V357 M526.5 346 V355 M529.5 345 V353 M531.5 351 V389 M533.5 387 V402 M532.5 392 V401 M535.5 395 V413 M534.5 401 V412 M537.5 401 V418 M539.5 389 V411 M538.5 391 V411 M541.5 361 V390 M543.5 345 V365 M542.5 346 V362 M545.5 333 V352 M544.5 335 V349 M547.5 331 V338 M546.5 331 V338 M549.5 326 V337 M548.5 327 V336 M551.5 307 V329 M553.5 303 V327 M552.5 305 V324 M555.5 320 V327 M554.5 322 V325 M557.5 323 V328 M559.5 320 V331 M561.5 318 V322 M563.5 316 V323 M565.5 312 V321 M567.5 290 V316 M569.5 288 V296 M571.5 287 V293 M570.5 287 V292 M573.5 287 V302 M575.5 299 V319 M574.5 304 V316 M577.5 314 V331 M579.5 310 V323 M578.5 311 V322 M581.5 310 V318 M583.5 315 V330 M585.5 322 V340 M587.5 325 V344 M589.5 322 V336 M588.5 324 V336 M591.5 322 V333 M593.5 330 V337 M595.5 334 V352 M594.5 339 V348 M597.5 324 V359 M599.5 317 V331 M601.5 315 V323 M600.5 315 V322 M603.5 316 V322 M602.5 317 V320 M605.5 310 V321 M607.5 303 V314 M606.5 305 V313 M609.5 292 V308 M608.5 292 V304 M611.5 290 V297 M610.5 292 V297 M613.5 279 V293 M615.5 277 V285 M617.5 283 V290 M619.5 285 V297 M618.5 289 V297 M621.5 293 V300 M623.5 299 V312 M622.5 301 V311 M625.5 295 V349 M627.5 281 V302 M629.5 274 V284 M631.5 274 V280 M630.5 276 V280 M633.5 277 V285 M635.5 280 V286 M634.5 282 V284 M637.5 278 V289 M639.5 266 V292 M638.5 269 V289 M641.5 259 V270 M640.5 261 V269 M643.5 260 V264 M645.5 259 V263 M644.5 259 V263 M647.5 258 V286 M646.5 258 V278 M649.5 268 V281 M651.5 235 V273 M653.5 233 V245 M652.5 234 V241 M655.5 240 V303 M657.5 268 V296 M659.5 265 V277 M661.5 257 V269 M663.5 267 V306 M665.5 291 V303 M664.5 293 V299 M667.5 252 V297 M669.5 252 V262 M668.5 255 V259 M671.5 252 V264 M673.5 244 V254 M672.5 246 V253 M675.5 242 V250 M674.5 243 V249 M677.5 245 V255 M676.5 247 V254 M679.5 249 V262 M678.5 253 V259 M681.5 258 V267 M680.5 261 V264 M683.5 259 V268 M685.5 267 V278 M684.5 268 V278 M687.5 272 V278 M689.5 276 V289 M691.5 273 V283 M693.5 274 V279 M695.5 275 V286 M694.5 275 V284 M697.5 284 V315 M699.5 307 V329 M701.5 314 V329 M700.5 318 V328 M703.5 312 V319 M702.5 314 V317 M705.5 300 V315 M707.5 300 V306 M709.5 301 V390 M711.5 385 V392 M713.5 383 V401 M712.5 386 V395 M715.5 399 V411 M717.5 405 V412 M716.5 407 V412 M719.5 402 V426 M721.5 402 V410 M723.5 395 V408 M725.5 380 V397 M727.5 367 V388 M726.5 371 V386 M729.5 357 V368 M731.5 360 V366 M730.5 362 V365 M733.5 352 V364 M735.5 348 V362 M737.5 359 V360 M736.5 360.5 H740.1 M747.5 313 V323 M749.5 312 V327 M751.5 303 V314 M750.5 306 V313 M753.5 298 V308 M755.5 295 V301 M754.5 296 V300 M757.5 283 V298 M759.5 288 V298 M758.5 291 V298 M761.5 273 V298 M763.5 249 V275 M765.5 251 V256 M764.5 251 V255 M767.5 252 V258 M766.5 252 V257 M769.5 248 V252 M771.5 246 V279 M770.5 251 V274 M773.5 266 V276 M775.5 266 V269 M774.2 268.5 H777.1 M784.2 268.5 H787.6 M795.5 268 V278 M794.5 270 V275 M797.5 273 V288 M796.5 277 V284 M799.5 271 V292 M798.5 272 V288 M801.5 265 V277 M800.5 269 V276 M803.5 264 V273 M802.5 265 V272 M805.5 261 V267 M804.5 262 V265 M807.5 238 V265 M809.5 225 V239 M811.5 215 V228 M813.5 198 V220 M815.5 196 V202 M814.5 198 V200 M817.5 200 V209 M819.5 141 V213 M821.5 132 V142 M820.5 134 V141 M823.5 134 V146 M822.5 135 V143 M825.5 125 V146 M824.5 125 V142 M827.5 136 V150 M829.5 141 V155 M828.5 144 V151 M831.5 152 V173 M833.5 150 V171 M835.5 148 V154 M837.5 136 V157 M836.5 141 V156 M839.5 125 V138 M841.5 111 V130 M843.5 111 V122 M845.5 111 V124 M847.5 109 V117 M846.5 111 V117 M849.5 106 V115 M851.5 92 V109 M850.5 97 V105 M853.5 95 V100 M855.5 95 V101 M854.5 95 V101 M857.5 95 V98 M856.5 96 V98 M859.5 94 V100 M861.5 98 V100 M863.5 90 V101 M865.5 84 V94 M867.5 79 V92 M866.5 82 V91 M869.5 66 V85 M871.5 55 V71 M870.5 60 V69 M873.5 53 V57 M872.5 54 V56 M875.5 52 V65 M877.5 62 V76 M879.5 74 V130 M878.5 74 V116 M881.5 108 V134 M880.5 113 V130 M883.5 105 V114 M885.5 99 V107 M884.5 99 V105 M887.5 93 V104 M889.5 93 V96 M888.5 93 V96 M891.5 86 V96 M890.5 87 V95 M893.5 81 V95 M892.5 85 V93 M895.5 87 V114 M894.5 90 V109 M897.5 98 V116 M899.5 92 V100 M901.5 86 V96 M903.5 92 V103 M905.5 100 V109 M907.5 103 V124 M906.5 110 V118 M909.5 123 V169 M911.5 155 V171 M910.5 159 V167 M913.5 148 V159 M915.5 146 V156 M914.5 146 V155 M917.5 154 V162 M916.5 155 V160 M919.5 156 V163 M921.5 152 V175 M923.5 157 V192 M922.5 163 V183 M925.5 138 V167 M924.5 143 V158 M927.5 134 V145 M929.5 129 V140 M928.5 131 V140 M931.5 129 V136 M933.5 131 V139 M935.5 123 V139 M937.5 68 V126 M936.5 73 V120 M939.5 64 V70 M941.5 67 V73 M943.5 65 V72 M945.5 48 V70 M944.5 49 V64 M947.5 35 V52 M946.5 39 V48 M949.5 35 V44 M951.5 28 V42 M950.5 31 V38 M953.5 27 V38 M955.5 34 V47 M957.5 33 V41 M956.5 35 V39 M959.5 32 V37 M958.5 32 V36 M961.5 35 V39 M963.5 34 V58 M965.5 51 V64 M964.5 51 V62 M967.5 58 V71 M969.5 65 V92 M968.5 74 V87 M971.5 88 V120 M973.5 114 V120 M972.5 114 V118 M975.5 110 V122 M977.5 96 V136 M976.5 100 V134 M979.5 92 V102 M981.5 96 V145 M983.5 139 V167 M985.5 144 V154 M984.5 145 V151 M987.5 144 V157 M989.5 133 V151 M991.5 104 V139 M993.5 96 V107 M992.5 96 V105 M995.5 87 V102 M997.5 89 V115 M996.5 94 V108 M999.5 79 V116 M1001.5 77 V83 M1003.5 72 V80 M1005.5 69 V79 M1007.5 77 V82 M1006.5 78 V81 M1009.5 78 V101 M1011.5 70 V102 M1013.5 23 V75 M1015.5 19 V26 M1017.5 14 V24 M1019.5 11 V19 M1021.5 16 V29 M1023.5 22 V32 M1025.5 26 V40 M1027.5 34 V50 M1029.5 44 V56 M1031.5 54 V55 M1033.5 54 V90 M1032.5 66 V86 M1035.5 53 V87 M1034.5 64 V83 M1037.5 53 V67 M1039.5 64 V149 M1041.5 142 V152 M1043.5 134 V148 M1045.5 128 V140 M1047.5 127 V131 M1049.5 124 V132 M1048.5 124 V132 M1051.5 121 V143 M1053.5 118 V158 M1052.5 121 V147 M1055.5 117 V133 M1054.5 117 V129 M1057.5 121 V130 M1056.5 121 V128 M1059.5 129 V136 M1058.5 131 V136 M1061.5 130 V138 M1063.5 128 V136 M1065.5 127 V139 M1064.5 130 V135 M1067.5 135 V232 M1066.5 155 V212 M1069.5 208 V231 M1071.5 203 V214 M1070.5 204 V214 M1073.5 195 V206 M1072.5 196 V204 M1075.5 185 V198 M1077.5 187 V214 M1079.5 207 V213 M1081.5 207 V212 M1083.5 209 V216 M1085.5 209 V233 M1084.5 212 V227 M1087.5 231 V265 M1089.5 262 V290 M1088.5 264 V286 M1091.5 286 V301 M1090.5 287 V296 M1093.5 293 V317 M1095.5 312 V333 M1097.5 316 V337 M1099.5 248 V318 M1098.5 248 V315 M1101.5 251 V279 M1103.5 261 V282 M1102.5 264 V276 M1105.5 258 V268 M1107.5 257 V268 M1106.5 260 V267 M1109.5 267 V280 M1111.5 277 V280 M1110.5 277 V279 M1113.5 217 V283 M1112.5 221 V274 M1115.5 209 V222 M1117.5 205 V212 M1119.5 194 V206 M1121.5 187 V200 M1123.5 181 V192 M1125.5 180 V186 M1127.5 183 V236 M1126.5 183 V232 M1129.5 231 V252 M1131.5 234 V247 M1133.5 234 V241 M1135.5 236 V241 M1137.5 237 V258 M1136.5 239 V255 M1139.5 231 V272 M1141.5 219 V263 M1143.5 260 V290 M1145.5 267 V292 M1147.5 260 V274 M1149.5 241 V264 M1151.5 247 V269 M1153.5 261 V275 M1152.5 262 V275 M1155.5 238 V274 M1154.5 238 V268 M1157.5 193 V240 M1156.5 194 V226 M1159.5 176 V196 M1161.5 164 V182 M1163.5 161 V171 M1165.5 158 V168 M1164.5 161 V167 M1167.5 160 V169 M1166.5 162 V166 M1169.5 163 V181 M1171.5 177 V206 M1170.5 177 V200 M1173.5 177 V186 M1175.5 177 V192 M1177.5 187 V207 M1179.5 177 V197 M1181.5 179 V200 M1183.5 176 V199 M1182.5 180 V194 M1185.5 169 V182 M1187.5 168 V212 M1186.5 181 V205 M1189.5 197 V223 M1191.5 190 V239 M1193.5 236 V270 M1195.5 237 V265 M1194.5 244 V263 M1197.5 216 V242 M1199.5 197 V222 M1198.5 203 V221 M1201.5 187 V199 M1200.5 189 V197 M1203.5 187 V193 M1202.5 189 V193 M1205.5 189 V205 M1207.5 202 V220 M1209.5 216 V223 M1211.5 219 V243 M1210.5 224 V235 M1213.5 238 V317 M1212.5 244 V317 M1215.5 307 V329 M1214.5 311 V324 M1217.5 302 V321 M1219.5 299 V308 M1218.5 300 V305 M1221.5 285 V303 M1223.5 283 V310 M1222.5 283 V306 M1225.5 285 V308 M1227.5 260 V288 M1229.5 247 V262 M1231.5 248 V255 M1230.5 248 V254 M1233.5 253 V275 M1235.5 266 V281 M1237.5 262 V283 M1236.5 269 V276 M1239.5 261 V268 M1241.5 171 V264 M1240.5 179 V264 M1243.5 169 V177 M1245.5 172 V196 M1247.5 184 V195 M1246.5 185 V195 M1249.5 175 V189 M1251.5 170 V178 M1253.5 168 V180 M1252.5 168 V176 M1255.5 167 V188 M1257.5 160 V178 M1259.5 157 V165 M1261.5 150 V160 M1263.5 122 V154 M1265.5 119 V126 M1267.5 121 V126 M1266.5 122 V125 M1269.5 109 V124 M1268.5 109 V123 M1271.5 97 V117 M1273.5 112 V117 M1275.5 103 V116 M1277.5 87 V105 M1279.5 87 V105 M1278.5 89 V104 M1281.5 99 V105 M1283.5 101 V136 M1285.5 132 V144 M1287.5 135 V147 M1289.5 132 V141 M1291.5 136 V143 M1293.5 138 V151 M1295.5 132 V152 M1294.5 138 V151 M1297.5 119 V136 M1299.5 122 V146 M1298.5 122 V140 M1301.5 55 V142 M1303.5 49 V60 M1305.5 50 V59 M1304.5 53 V57 M1307.5 53 V66 M1309.5 60 V94 M1308.5 64 V89 M1311.5 93 V104 M1313.5 103 V143 M1315.5 124 V154 M1314.5 134 V146 M1317.5 121 V129 M1316.5 121 V128 M1319.5 112 V122 M1318.5 114 V122 M1321.5 107 V121 M1323.5 104 V113 M1322.5 107 V113 M1325.5 108 V116 M1324.5 110 V114 M1327.5 108 V118 M1329.5 111 V125 M1331.5 119 V144 M1333.5 141 V157 M1332.5 142 V152 M1335.5 155 V174 M1334.5 158 V173 M1337.5 166 V174 M1336.5 167 V174 M1339.5 163 V168 M1341.5 164 V181 M1340.5 164 V181 M1343.5 176 V243 M1345.5 241 V278 M1347.5 257 V286 M1349.5 259 V275 M1348.5 264 V272 M1351.5 259 V278 M1350.5 260 V278 M1353.5 261 V280 M1355.5 277 V285 M1357.5 282 V304 M1359.5 274 V291 M1361.5 262 V281 M1363.5 253 V266 M1362.5 253 V263 M1365.5 252 V262 M1364.5 253 V262 M1367.5 259 V281 M1366.5 259 V275 M1369.5 274 V321 M1368.5 277 V319 M1371.5 320 V353 M1370.5 328 V342 M1373.5 348 V385 M1372.5 353 V384 M1375.5 356 V383 M1377.5 348 V373 M1379.5 305 V350 M1378.5 318 V337 M1381.5 291 V307 M1380.5 295 V302 M1383.5 302 V365 M1385.5 363 V387 M1384.5 364 V387 M1387.5 349 V407 M1389.5 339 V355 M1391.5 301 V343 M1390.5 306 V331 M1393.5 307 V341 M1395.5 333 V351 M1397.5 334 V351 M1399.5 296 V338 M1401.5 293 V339 M1400.5 305 V330 M1403.5 308 V327 M1405.5 301 V329 M1407.5 303 V325 M1406.5 306 V318 M1409.5 319 V341 M1411.5 331 V342 M1410.5 334 V340 M1413.5 334 V379 M1412.5 344 V366 M1415.5 294 V337 M1417.5 295 V321 M1419.5 315 V324 M1418.5 316 V324 M1421.5 318 V331 M1423.5 329 V342 M1422.5 332 V339 M1425.5 336 V356 M1424.5 341 V351 M1427.5 351 V357 M1426.5 352 V357 M1429.5 356 V364 M1431.5 361 V440 M1433.5 400 V443 M1435.5 389 V403 M1434.5 389 V403 M1437.5 390 V404 M1439.5 385 V413 M1438.5 386 V405 M1441.5 403 V434 M1443.5 424 V434 M1445.5 408 V430 M1447.5 402 V431 M1449.5 409 V434 M1451.5 407 V426 M1453.5 424 V438 M1455.5 436 V475 M1454.5 440 V463 M1457.5 423 V476 M1459.5 415 V425 M1458.5 417 V424 M1461.5 421 V445 M1460.5 427 V443 M1463.5 439 V457 M1465.5 451 V469 M1464.5 455 V466 M1467.5 462 V475 M1469.5 468 V485 M1471.5 483 V503 M1473.5 494 V513 M1472.5 495 V512 M1475.5 510 V534 M1474.5 518 V532 M1477.5 533 V545 M1476.5 536 V543 M1479.5 542 V550 M1478.5 543 V550 M1481.5 545 V549 M1480.5 546 V548 M1483.5 545 V573 M1485.5 568 V600 M1487.5 568 V584 M1489.5 570 V591 M1491.5 587 V622 M1493.5 598 V618 M1492.5 601 V614 M1495.5 595 V627 M1494.5 602 V627 M1497.5 619 V627 M1499.5 622 V666 M1501.5 642 V658 M1503.5 643 V649 M1505.5 596 V645 M1507.5 572 V601 M1509.5 574 V591 M1511.5 572 V589 M1510.5 574 V587 M1513.5 562 V578 M1512.5 567 V574 M1515.5 551 V566 M1514.5 556 V566 M1517.5 540 V555 M1516.5 544 V550 M1519.5 515 V542 M1518.5 519 V540 M1521.5 484 V521 M1523.5 483 V489 M1525.5 485 V511 M1527.5 506 V518 M1526.5 508 V518 M1529.5 509 V520 M1531.5 515 V538 M1530.5 516 V533 M1533.5 534 V570 M1532.5 539 V567 M1535.5 566 V609 M1534.5 570 V601 M1537.5 603 V634 M1539.5 626 V643 M1541.5 606 V636 M1543.5 582 V610 M1545.5 516 V588 M1544.5 534 V571 M1547.5 523 V534 M1546.5 525 V531 M1549.5 510 V528 M1551.5 503 V532 M1553.5 525 V548 M1555.5 540 V567 M1557.5 550 V570 M1559.5 519 V556 M1561.5 511 V522 M1560.5 512 V522 M1563.5 504 V518 M1562.5 508 V518 M1565.5 509 V521 M1567.5 515 V522 M1569.5 520 V526 M1571.5 517 V526 M1573.5 519 V546 M1575.5 531 V555 M1577.5 461 V536 M1579.5 450 V465 M1578.5 450 V460 M1581.5 454 V490 M1583.5 487 V503 M1582.5 487 V502 M1585.5 483 V507 M1587.5 456 V490 M1589.5 461 V500 M1588.5 470 V496 M1591.5 495 V548 M1590.5 495 V542 M1593.5 542 V556 M1595.5 547 V555 M1597.5 542 V549 M1596.5 542 V547 M1599.5 541 V546 M1598.5 541 V545 M1601.5 546 V554 M1603.5 550 V557 M1605.5 554 V599 M1607.5 594 V613 M1609.5 600 V629 M1611.5 579 V612 M1613.5 551 V583 M1615.5 543 V576 M1617.5 522 V573 M1619.5 569 V665 M1621.5 662 V694 M1620.5 669 V685 M1623.5 688 V702 M1625.5 701 V714 M1627.5 712 V731 M1629.5 727 V735 M1631.5 716 V732 M1633.5 714 V746 M1635.5 738 V757 M1637.5 754 V771 M1636.5 754 V766 M1639.5 769 V784 M1641.5 768 V788 M1643.5 725 V770 M1642.5 725 V768 M1645.5 736 V752 M1647.5 736 V754 M1646.5 740 V750 M1649.5 727 V757 M1648.5 730 V757 M1651.5 724 V735 M1653.5 720 V738 M1655.5 709 V726 M1657.5 696 V713 M1656.5 701 V712 M1659.5 693 V698 M1658.5 694 V697 M1661.5 662 V697 M1663.5 599 V668 M1662.5 601 V666 M1665.5 581 V604 M1667.5 574 V586 M1669.5 572 V580 M1668.5 574 V580 M1671.5 572 V591 M1673.5 547 V596 M1675.5 546 V551 M1677.5 477 V550 M1676.5 486 V539 M1679.5 482 V527 M1678.5 487 V512 M1681.5 506 V529 M1683.5 496 V515 M1682.5 499 V511 M1685.5 496 V514 M1687.5 508 V540 M1689.5 537 V573 M1688.5 539 V572 M1691.5 561 V587 M1693.5 538 V568 M1692.5 545 V566 M1695.5 540 V550 M1697.5 512 V545 M1699.5 506 V517 M1698.5 508 V517 M1701.5 495 V510 M1700.5 496 V506 M1703.5 492 V497 M1705.5 481 V497 M1704.5 483 V497 M1707.5 440 V491 M1709.5 487 V505 M1711.5 501 V514 M1710.5 504 V512 M1713.5 491 V511 M1715.5 496 V526 M1717.5 522 V534 M1719.5 527 V585 M1718.5 530 V577 M1721.5 560 V586 M1723.5 555 V590 M1725.5 534 V566 M1724.5 540 V563 M1727.5 529 V547 M1726.5 531 V545 M1729.5 530 V544 M1728.5 530 V543 M1731.5 507 V537 M1730.5 511 V535 M1733.5 500 V511 M1735.5 500 V506 M1734.5 502 V506 M1737.5 494 V542 M1736.5 498 V531 M1739.5 486 V509 M1738.5 490 V504 M1741.5 490 V513 M1740.5 493 V511 M1743.5 487 V514 M1742.5 490 V511 M1745.5 505 V524 M1744.5 508 V522 M1747.5 522 V568 M1749.5 504 V530 M1748.5 511 V523 M1751.5 495 V507 M1753.5 491 V498 M1755.5 485 V508 M1757.5 484 V520 M1756.5 491 V517 M1759.5 476 V519 M1758.5 479 V512 M1761.5 449 V481 M1763.5 437 V453 M1762.5 440 V449 M1765.5 430 V442 M1767.5 432 V444 M1769.5 434 V449 M1771.5 418 V439 M1770.5 421 V435 M1773.5 405 V420 M1772.5 408 V417 M1775.5 404 V409 M1777.5 408 V412" stroke="#000" stroke-width="1" fill="none"/>
<rect x="1640.5" y="791.5" width="5" height="5" fill="#fff" stroke="#000" stroke-width="1"/>
<rect x="1604.5" y="803.5" width="48" height="10" fill="#f6f61e" stroke="#000" stroke-width="1"/>
<rect x="0" y="0" width="1915" height="1" fill="#0a0a80"/>
<rect x="1866" y="0" width="1" height="912" fill="#0a0a80"/>
<rect x="1913" y="0" width="1" height="926" fill="#0a0a80"/>
<rect x="0" y="911" width="1867" height="1" fill="#0a0a80"/>
<rect x="0" y="925" width="1914" height="1" fill="#3b6fb5"/>
<path d="M1868 408.5 L1872.5 403 H1912 V415 H1872.5 Z" fill="#7c7f7c" shape-rendering="auto"/>
<g shape-rendering="auto" text-rendering="geometricPrecision">
<text x="1871.5" y="38.2" font-size="10.5" fill="#000" stroke="#000" stroke-width="0.15">1.417,50</text>
<text x="1871.5" y="76.2" font-size="10.5" fill="#000" stroke="#000" stroke-width="0.15">1.410,00</text>
<text x="1871.5" y="113.2" font-size="10.5" fill="#000" stroke="#000" stroke-width="0.15">1.402,50</text>
<text x="1871.5" y="151.2" font-size="10.5" fill="#000" stroke="#000" stroke-width="0.15">1.395,00</text>
<text x="1871.5" y="188.2" font-size="10.5" fill="#000" stroke="#000" stroke-width="0.15">1.387,50</text>
<text x="1871.5" y="226.2" font-size="10.5" fill="#000" stroke="#000" stroke-width="0.15">1.380,00</text>
<text x="1871.5" y="264.2" font-size="10.5" fill="#000" stroke="#000" stroke-width="0.15">1.372,50</text>
<text x="1871.5" y="301.2" font-size="10.5" fill="#000" stroke="#000" stroke-width="0.15">1.365,00</text>
<text x="1871.5" y="339.2" font-size="10.5" fill="#000" stroke="#000" stroke-width="0.15">1.357,50</text>
<text x="1871.5" y="377.2" font-size="10.5" fill="#000" stroke="#000" stroke-width="0.15">1.350,00</text>
<text x="1871.5" y="452.2" font-size="10.5" fill="#000" stroke="#000" stroke-width="0.15">1.335,00</text>
<text x="1871.5" y="490.2" font-size="10.5" fill="#000" stroke="#000" stroke-width="0.15">1.327,50</text>
<text x="1871.5" y="527.2" font-size="10.5" fill="#000" stroke="#000" stroke-width="0.15">1.320,00</text>
<text x="1871.5" y="565.2" font-size="10.5" fill="#000" stroke="#000" stroke-width="0.15">1.312,50</text>
<text x="1871.5" y="602.2" font-size="10.5" fill="#000" stroke="#000" stroke-width="0.15">1.305,00</text>
<text x="1871.5" y="640.2" font-size="10.5" fill="#000" stroke="#000" stroke-width="0.15">1.297,50</text>
<text x="1871.5" y="678.2" font-size="10.5" fill="#000" stroke="#000" stroke-width="0.15">1.290,00</text>
<text x="1871.5" y="715.2" font-size="10.5" fill="#000" stroke="#000" stroke-width="0.15">1.282,50</text>
<text x="1871.5" y="753.2" font-size="10.5" fill="#000" stroke="#000" stroke-width="0.15">1.275,00</text>
<text x="1871.5" y="791.2" font-size="10.5" fill="#000" stroke="#000" stroke-width="0.15">1.267,50</text>
<text x="1871.5" y="828.2" font-size="10.5" fill="#000" stroke="#000" stroke-width="0.15">1.260,00</text>
<text x="1871.5" y="866.2" font-size="10.5" fill="#000" stroke="#000" stroke-width="0.15">1.252,50</text>
<text x="1871.5" y="903.2" font-size="10.5" fill="#000" stroke="#000" stroke-width="0.15">1.245,00</text>
<text x="1871.8" y="412.3" font-size="10.3" fill="#fff">1.342,84</text>
<text x="0.8" y="922" font-size="9.3" fill="#000" stroke="#000" stroke-width="0.15" letter-spacing="0.75">Dec</text>
<text x="55.8" y="922" font-size="9.3" fill="#000" stroke="#000" stroke-width="0.15" letter-spacing="0.75">30 Dec</text>
<text x="112.8" y="922" font-size="9.3" fill="#000" stroke="#000" stroke-width="0.15" letter-spacing="0.75">06 Jan</text>
<text x="169.8" y="922" font-size="9.3" fill="#000" stroke="#000" stroke-width="0.15" letter-spacing="0.75">12 Jan</text>
<text x="244.8" y="922" font-size="9.3" fill="#000" stroke="#000" stroke-width="0.15" letter-spacing="0.75">20 Jan</text>
<text x="301.8" y="922" font-size="9.3" fill="#000" stroke="#000" stroke-width="0.15" letter-spacing="0.75">26 Jan</text>
<text x="372.8" y="922" font-size="9.3" fill="#000" stroke="#000" stroke-width="0.15" letter-spacing="0.75">02 Feb</text>
<text x="430.8" y="922" font-size="9.3" fill="#000" stroke="#000" stroke-width="0.15" letter-spacing="0.75">08 Feb</text>
<text x="496.8" y="922" font-size="9.3" fill="#000" stroke="#000" stroke-width="0.15" letter-spacing="0.75">14 Feb</text>
<text x="567.8" y="922" font-size="9.3" fill="#000" stroke="#000" stroke-width="0.15" letter-spacing="0.75">22 Feb</text>
<text x="624.8" y="922" font-size="9.3" fill="#000" stroke="#000" stroke-width="0.15" letter-spacing="0.75">28 Feb</text>
<text x="695.8" y="922" font-size="9.3" fill="#000" stroke="#000" stroke-width="0.15" letter-spacing="0.75">06 Mar</text>
<text x="760.8" y="922" font-size="9.3" fill="#000" stroke="#000" stroke-width="0.15" letter-spacing="0.75">12 Mar</text>
<text x="836.8" y="922" font-size="9.3" fill="#000" stroke="#000" stroke-width="0.15" letter-spacing="0.75">16 Mar</text>
<text x="893.8" y="922" font-size="9.3" fill="#000" stroke="#000" stroke-width="0.15" letter-spacing="0.75">22 Mar</text>
<text x="952.8" y="922" font-size="9.3" fill="#000" stroke="#000" stroke-width="0.15" letter-spacing="0.75">28 Mar</text>
<text x="1024.8" y="922" font-size="9.3" fill="#000" stroke="#000" stroke-width="0.15" letter-spacing="0.75">04 Apr</text>
<text x="1099.8" y="922" font-size="9.3" fill="#000" stroke="#000" stroke-width="0.15" letter-spacing="0.75">12 Apr</text>
<text x="1156.8" y="922" font-size="9.3" fill="#000" stroke="#000" stroke-width="0.15" letter-spacing="0.75">18 Apr</text>
<text x="1213.8" y="922" font-size="9.3" fill="#000" stroke="#000" stroke-width="0.15" letter-spacing="0.75">24 Apr</text>
<text x="1270.8" y="922" font-size="9.3" fill="#000" stroke="#000" stroke-width="0.15" letter-spacing="0.75">30 Apr</text>
<text x="1327.8" y="922" font-size="9.3" fill="#000" stroke="#000" stroke-width="0.15" letter-spacing="0.75">04 May</text>
<text x="1384.8" y="922" font-size="9.3" fill="#000" stroke="#000" stroke-width="0.15" letter-spacing="0.75">10 May</text>
<text x="1445.8" y="922" font-size="9.3" fill="#000" stroke="#000" stroke-width="0.15" letter-spacing="0.75">16 May</text>
<text x="1504.8" y="922" font-size="9.3" fill="#000" stroke="#000" stroke-width="0.15" letter-spacing="0.75">22 May</text>
<text x="1577.8" y="922" font-size="9.3" fill="#000" stroke="#000" stroke-width="0.15" letter-spacing="0.75">30 May</text>
<text x="1648.8" y="922" font-size="9.3" fill="#000" stroke="#000" stroke-width="0.15" letter-spacing="0.75">06 Jun</text>
<text x="1707.8" y="922" font-size="9.3" fill="#000" stroke="#000" stroke-width="0.15" letter-spacing="0.75">12 Jun</text>
<text x="1764.8" y="922" font-size="9.3" fill="#000" stroke="#000" stroke-width="0.15" letter-spacing="0.75">16 Jun</text>
<text x="1836" y="43.0" font-size="9.2" fill="#000" stroke="#000" stroke-width="0.2">0,0</text>
<text x="1836" y="220.0" font-size="9.2" fill="#000" stroke="#000" stroke-width="0.2">23,60</text>
<text x="1836" y="329.0" font-size="9.2" fill="#000" stroke="#000" stroke-width="0.2">38,20</text>
<text x="1836" y="417.0" font-size="9.2" fill="#000" stroke="#000" stroke-width="0.2">50,00</text>
<text x="1836" y="506.0" font-size="9.2" fill="#000" stroke="#000" stroke-width="0.2">61,80</text>
<text x="1836" y="615.0" font-size="9.2" fill="#000" stroke="#000" stroke-width="0.2">76,40</text>
<text x="1836" y="792.0" font-size="9.2" fill="#000" stroke="#000" stroke-width="0.2">100,00</text>
<text x="935.5" y="288.0" font-size="9.2" fill="#000" stroke="#000" stroke-width="0.2">1.366,57</text>
<text x="935.5" y="327.0" font-size="9.2" fill="#000" stroke="#000" stroke-width="0.2">1.358,80</text>
<text x="935.5" y="352.0" font-size="9.2" fill="#000" stroke="#000" stroke-width="0.2">1.353,82</text>
<text x="935.5" y="420.0" font-size="9.2" fill="#000" stroke="#000" stroke-width="0.2">1.340,46</text>
<text x="1606.8" y="812" font-size="10.3" fill="#000" stroke="#000" stroke-width="0.25">1.266,32</text>
<text x="1018.2" y="654.8" font-size="28.4" font-weight="bold" fill="#660f66">S&amp;P 500</text>
<text x="945.6" y="688.6" font-size="30.4" font-weight="bold" fill="#000">www.DepotBlog.de</text>
</g>
</svg>
</body></html>
